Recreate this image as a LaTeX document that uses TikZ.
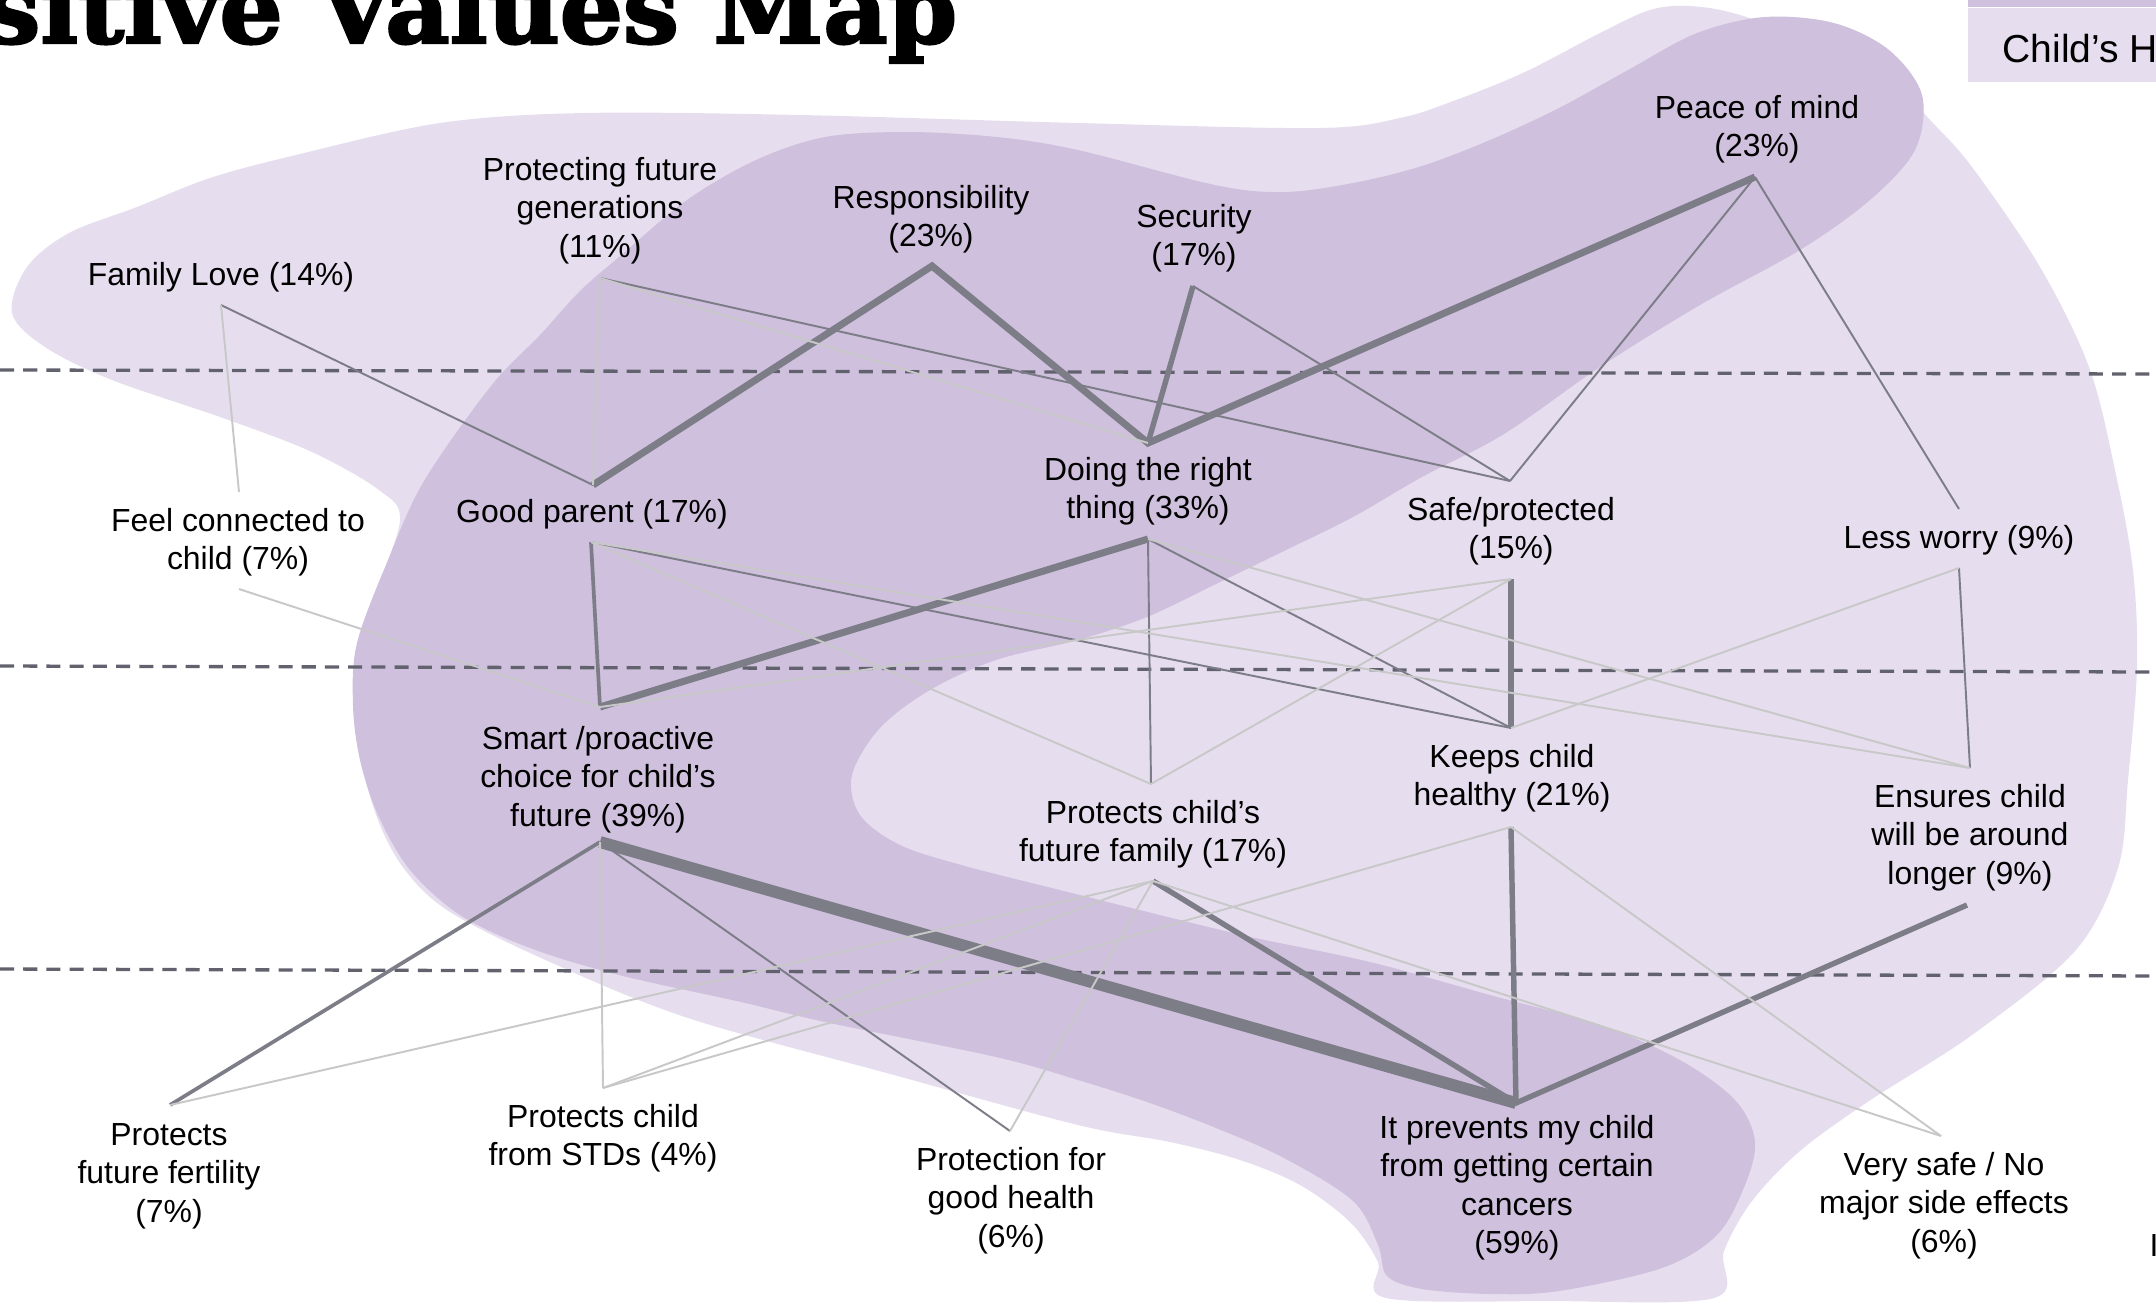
\documentclass[tikz,border=0pt]{standalone}
\usepackage{fontspec}
\setmainfont{Liberation Sans}
\newfontfamily\titlefont{DejaVu Serif}[BoldFeatures={FakeBold=2.5}]
\definecolor{blobLight}{HTML}{E6DEEE}
\definecolor{blobMid}{HTML}{CFC0DD}
\definecolor{darkc}{HTML}{7D7D88}
\definecolor{litec}{HTML}{C8C8C8}
\definecolor{ladderc}{HTML}{62626F}
% centred multi-line label whose baseline is the first line
\newcommand{\lbltxt}[1]{\begin{tabular}[t]{@{}c@{}}#1\end{tabular}}

\begin{document}
\begin{tikzpicture}[x=0.01cm, y=-0.01cm,
  every node/.style={inner sep=0pt},
  lbl/.style={anchor=base, font=\fontsize{9.08}{10.95}\selectfont},
  ladder/.style={draw=ladderc, line width=0.94pt, dash pattern=on 4pt off 2.6pt},
  lite/.style={draw=litec, line width=0.55pt},
  cthin/.style={draw=darkc, line width=0.55pt},
  cmed/.style={draw=darkc, line width=1.05pt},
  cheavy/.style={draw=darkc, line width=1.55pt},
  cheavier/.style={draw=darkc, line width=2.0pt},
  cheaviest/.style={draw=darkc, line width=3.4pt},
]
\useasboundingbox (0,0) rectangle (2156,1302);
\clip (0,0) rectangle (2156,1302);
\fill[white] (0,0) rectangle (2156,1302);

% outer (light) region
\fill[blobLight] plot[smooth cycle, tension=0.55] coordinates {
 (12,313) (27,267) (69,233) (137,207) (210,178) (296,155) (440,123) (584,113)
 (800,115) (1078,123) (1318,128) (1400,118) (1456,100) (1525,72) (1600,33)
 (1650,10) (1690,6) (1740,15) (1820,45) (1890,80) (1930,120) (1972,167)
 (2040,267) (2089,367) (2115,470) (2133,570) (2137,667) (2128,780) (2118,868)
 (2075,951) (1972,1035) (1869,1101) (1800,1151) (1752,1201) (1724,1251)
 (1714,1298) (1550,1301) (1386,1298) (1378,1262) (1350,1222) (1300,1185)
 (1240,1160) (1170,1142) (1078,1125) (894,1075) (688,1018) (550,962)
 (450,912) (405,870) (378,820) (362,760) (360,690) (375,600) (400,520)
 (379,490) (312,452) (223,418) (112,380) (45,347)};

% inner (medium) region
\fill[blobMid] plot[smooth cycle, tension=0.55] coordinates {
 (580,291) (619,257) (687,200) (756,160) (825,137) (907,132) (997,137)
 (1078,150) (1215,185) (1284,192) (1353,183) (1422,166) (1490,140) (1559,108)
 (1628,70) (1697,33) (1765,17) (1834,23) (1889,50) (1922,95) (1915,150)
 (1870,200) (1800,250) (1700,305) (1600,367) (1504,434) (1422,477) (1353,517)
 (1284,551) (1216,584) (1147,617) (1078,640) (996,660) (930,690) (880,728)
 (852,775) (860,815) (900,845) (965,866) (1060,890) (1160,915) (1251,937)
 (1370,962) (1490,995) (1600,1025) (1680,1060) (1735,1100) (1755,1141)
 (1745,1185) (1717,1235) (1662,1268) (1559,1291) (1490,1294) (1422,1289)
 (1387,1276) (1378,1245) (1353,1201) (1284,1158) (1216,1128) (1147,1102)
 (1078,1080) (996,1057) (825,1022) (741,1002) (619,975) (530,948) (460,915)
 (410,870) (378,815) (360,760) (353,705) (357,643) (388,560) (424,481)
 (491,386) (540,335)};

% legend tab
\fill[blobMid] (1968,-5) rectangle (2156,7);
\fill[blobLight] (1968,8) rectangle (2156,82);
\node[anchor=base west, font=\fontsize{11.1}{13}\selectfont] (tab) at (2002,62) {Child’s H};

% title, slightly widened
\begin{scope}[shift={(958,43)}, xscale=1.035]
\node[anchor=base east, transform shape, font=\titlefont\bfseries\fontsize{27.3}{30}\selectfont] (title) at (0,0) {sitive Values Map};
\end{scope}

% ladder level separators
\draw[ladder] (0,370) -- (2156,374);
\draw[ladder] (0,666) -- (2156,672);
\draw[ladder] (0,969) -- (2156,976);

% connector end points
\coordinate (famB) at (221,305);
\coordinate (pfgB) at (600,278);
\coordinate (respB) at (932,266);
\coordinate (secB) at (1193,286);
\coordinate (peaceB) at (1755,177);
\coordinate (feelT) at (239,492);  \coordinate (feelB) at (239,589);
\coordinate (goodT) at (593,485);  \coordinate (goodB) at (591,542);
\coordinate (doingT) at (1148,443); \coordinate (doingB) at (1148,539);
\coordinate (safeT) at (1510,481); \coordinate (safeB) at (1511,579);
\coordinate (lessT) at (1959,509); \coordinate (lessB) at (1959,568);
\coordinate (smartT) at (600,707); \coordinate (smartB) at (600,842);
\coordinate (pffT) at (1151,784);  \coordinate (pffB) at (1153,881);
\coordinate (keepsT) at (1511,728); \coordinate (keepsB) at (1511,827);
\coordinate (ensT) at (1970,768);  \coordinate (ensB) at (1967,905);
\coordinate (fertT) at (170,1105);
\coordinate (stdT) at (603,1088);
\coordinate (pghT) at (1010,1131);
\coordinate (cancT) at (1516,1103);
\coordinate (vsafeT) at (1941,1136);

% strong links
\draw[cheaviest] (smartB) -- (cancT);
\draw[cheavier] (goodT) -- (respB) -- (doingT) -- (peaceB);
\draw[cheavier] (doingB) -- (smartT);
\draw[cheavy] (secB) -- (doingT);
\draw[cheavy] (safeB) -- (keepsT);
\draw[cheavy] (pffB) -- (cancT) -- (ensB);
\draw[cheavy] (keepsB) -- (cancT);
\draw[cmed] (goodB) -- (smartT);
\draw[cmed] (smartB) -- (fertT);
% thin links
\draw[cthin] (famB) -- (goodT);
\draw[cthin] (pfgB) -- (safeT);
\draw[cthin] (secB) -- (safeT);
\draw[cthin] (peaceB) -- (safeT);
\draw[cthin] (peaceB) -- (lessT);
\draw[cthin] (goodB) -- (keepsT);
\draw[cthin] (doingB) -- (pffT);
\draw[cthin] (doingB) -- (keepsT);
\draw[cthin] (lessB) -- (ensT);
\draw[cthin] (smartB) -- (pghT);
% weak links
\draw[lite] (famB) -- (feelT);
\draw[lite] (pfgB) -- (doingT);
\draw[lite] (pfgB) -- (goodT);
\draw[lite] (feelB) -- (smartT);
\draw[lite] (goodB) -- (pffT);
\draw[lite] (goodB) -- (ensT);
\draw[lite] (doingB) -- (ensT);
\draw[lite] (lessB) -- (keepsT);
\draw[lite] (safeB) -- (smartT);
\draw[lite] (safeB) -- (pffT);
\draw[lite] (smartB) -- (stdT);
\draw[lite] (pffB) -- (fertT);
\draw[lite] (pffB) -- (stdT);
\draw[lite] (pffB) -- (pghT);
\draw[lite] (pffB) -- (vsafeT);
\draw[lite] (keepsB) -- (stdT);
\draw[lite] (keepsB) -- (vsafeT);

% labels
\node[lbl] (fam) at (221,285) {Family Love (14\%)};
\node[lbl] (pfg) at (600,180) {\lbltxt{Protecting future\\generations\\(11\%)}};
\node[lbl] (resp) at (931,208) {\lbltxt{Responsibility\\(23\%)}};
\node[lbl] (sec) at (1194,227) {\lbltxt{Security\\(17\%)}};
\node[lbl] (peace) at (1757,118) {\lbltxt{Peace of mind\\(23\%)}};
\node[lbl] (feel) at (238,531) {\lbltxt{Feel connected to\\child (7\%)}};
\node[lbl] (good) at (592,522) {Good parent (17\%)};
\node[lbl] (doing) at (1148,480) {\lbltxt{Doing the right\\thing (33\%)}};
\node[lbl] (safe) at (1511,520) {\lbltxt{Safe/protected\\(15\%)}};
\node[lbl] (less) at (1959,548) {Less worry (9\%)};
\node[lbl] (smart) at (598,749) {\lbltxt{Smart /proactive\\choice for child’s\\future (39\%)}};
\node[lbl] (pff) at (1153,823) {\lbltxt{Protects child’s\\future family (17\%)}};
\node[lbl] (keeps) at (1512,767) {\lbltxt{Keeps child\\healthy (21\%)}};
\node[lbl] (ens) at (1970,807) {\lbltxt{Ensures child\\will be around\\longer (9\%)}};
\node[lbl] (fert) at (169,1145) {\lbltxt{Protects\\future fertility\\(7\%)}};
\node[lbl] (std) at (603,1127) {\lbltxt{Protects child\\from STDs (4\%)}};
\node[lbl] (pgh) at (1011,1170) {\lbltxt{Protection for\\good health\\(6\%)}};
\node[lbl] (canc) at (1517,1138) {\lbltxt{It prevents my child\\from getting certain\\cancers\\(59\%)}};
\node[lbl] (vsafe) at (1944,1175) {\lbltxt{Very safe / No\\major side effects\\(6\%)}};
\node[lbl, anchor=base west] (edge) at (2149,1256) {I};
\end{tikzpicture}
\end{document}
